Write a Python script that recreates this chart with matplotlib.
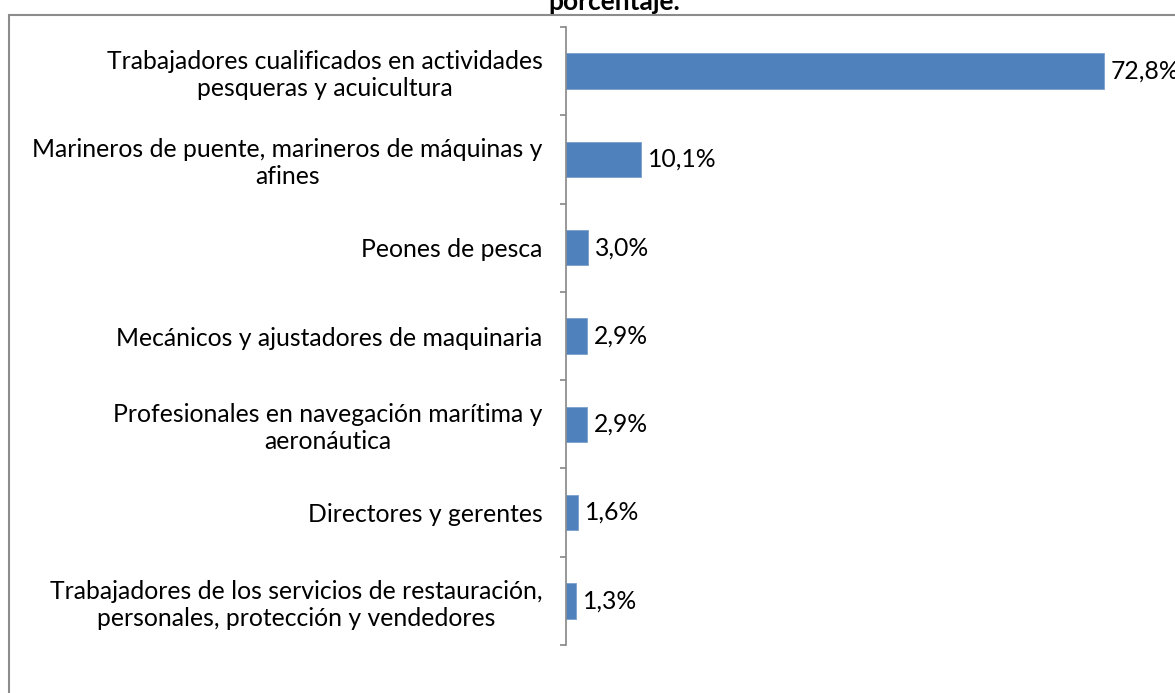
import matplotlib
matplotlib.use("Agg")
import matplotlib.pyplot as plt
from matplotlib.patches import Rectangle
import numpy as np

categories = [
    "Trabajadores cualificados en actividades\npesqueras y acuicultura",
    "Marineros de puente, marineros de máquinas y\nafines",
    "Peones de pesca",
    "Mecánicos y ajustadores de maquinaria",
    "Profesionales en navegación marítima y\naeronáutica",
    "Directores y gerentes",
    "Trabajadores de los servicios de restauración,\npersonales, protección y vendedores",
]
values = [72.8, 10.1, 3.0, 2.9, 2.9, 1.6, 1.3]
value_labels = ["72,8%", "10,1%", "3,0%", "2,9%", "2,9%", "1,6%", "1,3%"]
title = "porcentaje."

W, H = 1175, 693
plt.rcParams['font.family'] = ['Lato', 'DejaVu Sans']

fig = plt.figure(figsize=(W / 100, H / 100), dpi=100)
# axes box in pixels: left 566, top 27, bottom 645, right 1157 (x max 80)
ax = fig.add_axes([566 / W, 1 - 645 / H, (1157 - 566) / W, (645 - 27) / H])

n = len(values)
ypos = np.arange(n)
ax.barh(ypos, values, height=0.4, color="#4F81BD", edgecolor="#7BA0CD", linewidth=0.6)
ax.set_ylim(n - 0.5, -0.5)
ax.set_xlim(0, 80)

for y, v, lbl in zip(ypos, values, value_labels):
    ax.annotate(lbl, (v, y), xytext=(5, 0), textcoords="offset points",
                va="center", ha="left", fontsize=17.8, color="black")

# tick marks at category boundaries, labels at the centres
ax.set_yticks(np.arange(n + 1) - 0.5)
ax.set_yticklabels([""] * (n + 1))
ax.set_yticks(ypos, categories, minor=True)
ax.tick_params(axis="y", which="major", length=4.5, width=1.2, color="#868686", direction="out")
ax.tick_params(axis="y", which="minor", length=0, pad=17, labelsize=17.8)
for t in ax.get_yticklabels(minor=True):
    t.set_multialignment("center")
    t.set_linespacing(1.2)

ax.xaxis.set_visible(False)
for s in ["top", "right", "bottom"]:
    ax.spines[s].set_visible(False)
ax.spines["left"].set_color("#868686")
ax.spines["left"].set_linewidth(1.2)

# chart frame (cut off at right and bottom)
fig.add_artist(Rectangle((9 / W, -0.1), 1.2, 1 - 15 / H + 0.1, transform=fig.transFigure,
                         fill=False, edgecolor="#8c8c8c", linewidth=1.5))

# title: only the last line of a longer title is visible, cut at the top edge
fig.text(614 / W, 1 - 10 / H, title, ha="center", va="baseline",
         fontsize=19, fontweight="bold")

fig.savefig("out.png", dpi=100)
